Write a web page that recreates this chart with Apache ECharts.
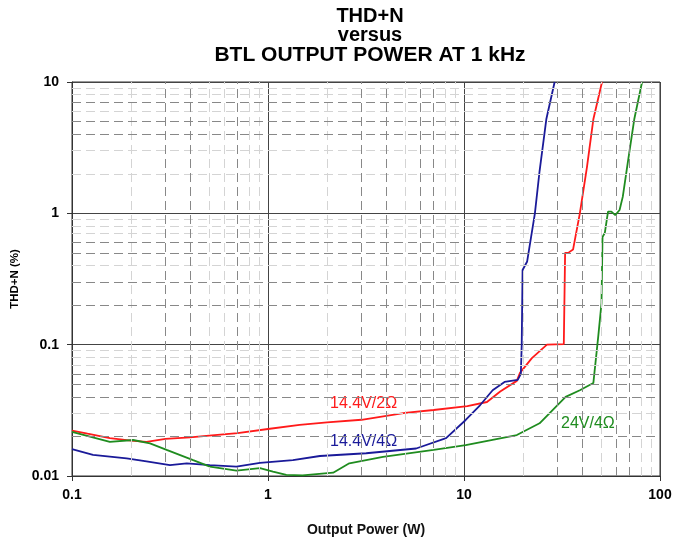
<!DOCTYPE html>
<html>
<head>
<meta charset="utf-8">
<script src="https://cdn.jsdelivr.net/npm/echarts@6/dist/echarts.min.js"></script>
<style>html,body{margin:0;padding:0;background:#fff}#c{width:675px;height:544px}</style>
</head>
<body>
<div id="c"></div>
<script>
// ---- data (Output Power W, THD+N %) ----
const red_14V4_2ohm = [[0.1,0.0222],[0.12,0.021],[0.156,0.0194],[0.2,0.0186],[0.24,0.0182],[0.3,0.0192],[0.4,0.0197],[0.5,0.0203],[0.7,0.0212],[1.0,0.0228],[1.45,0.0245],[2,0.0256],[3,0.0268],[5,0.0302],[7,0.0318],[10.4,0.034],[13.1,0.0366],[15.3,0.044],[18.6,0.053],[19.3,0.061],[22.2,0.079],[26.5,0.1],[32.3,0.101],[32.8,0.5],[34,0.5],[36,0.53],[39,1.0],[42.4,2.25],[45.7,5.2],[50.6,10]];
const blue_14V4_4ohm = [[0.1,0.016],[0.128,0.0145],[0.19,0.0136],[0.24,0.0129],[0.316,0.0121],[0.385,0.0125],[0.505,0.0121],[0.69,0.0118],[0.91,0.0126],[1.34,0.0132],[1.84,0.0142],[3.17,0.0149],[5.7,0.0162],[8.1,0.0194],[10.2,0.0267],[12.1,0.0347],[14,0.045],[16.1,0.052],[18.8,0.054],[19.5,0.06],[19.7,0.1],[19.9,0.37],[21,0.43],[23,1.0],[24.3,2.1],[26.3,5.2],[29,10]];
const green_24V_4ohm = [[0.1,0.0217],[0.156,0.0182],[0.205,0.0188],[0.25,0.0177],[0.304,0.0158],[0.415,0.0132],[0.505,0.0118],[0.69,0.011],[0.91,0.0115],[1.06,0.0108],[1.24,0.0102],[1.5,0.0101],[2.15,0.0106],[2.6,0.0125],[3.86,0.014],[7.0,0.0158],[10.2,0.0172],[18.6,0.0205],[24.3,0.0252],[33,0.040],[39,0.045],[45.7,0.051],[48.4,0.115],[50.3,0.207],[50.9,0.66],[52.3,0.71],[54.3,1.03],[56.5,1.03],[59.1,0.97],[62.2,1.06],[64.6,1.34],[68.4,2.4],[73.9,5.2],[81,10]];
const seriesNames = ['14.4V/2Ω','14.4V/4Ω','24V/4Ω'];
const titleLines = ['THD+N','versus','BTL OUTPUT POWER AT 1 kHz'];
const xTicks = [0.1, 1, 10, 100];
const yTicks = [0.01, 0.1, 1, 10];
// minor grid values
const xMinorDark = [0.3,0.4,0.7,3,4,6,7,30,40,60,70];
const xMinorLight = [0.2,0.5,0.6,0.8,0.9,2,5,8,9,20,50,80,90];
const yMinorDark = [0.02,0.04,0.05,0.06,0.2,0.3,0.5,0.6,4,5,7];
const yMinorLight = [0.03,0.07,0.08,0.09,0.4,0.7,0.8,0.9,2,3,6,8,9];

const FONT = '"Liberation Sans", Arial, Helvetica, sans-serif';
const chart = echarts.init(document.getElementById('c'));

const darkStyle = {color:'#888', type:[9,5], width:1};
const lightStyle = {color:'#d4d4d4', type:[9,5], width:1};
const gridLines = []
  .concat(xMinorLight.map(v => ({xAxis:v, lineStyle:lightStyle})))
  .concat(yMinorLight.map(v => ({yAxis:v, lineStyle:lightStyle})))
  .concat(xMinorDark.map(v => ({xAxis:v, lineStyle:darkStyle})))
  .concat(yMinorDark.map(v => ({yAxis:v, lineStyle:darkStyle})));

const fmt = v => String(+(+v).toPrecision(3));

chart.setOption({
  animation:false,
  backgroundColor:'#fff',
  grid:{left:72, right:15, top:82, bottom:68, show:true, borderColor:'#333', borderWidth:1},
  xAxis:{
    type:'log', logBase:10, min:0.1, max:100,
    name:'Output Power (W)', nameLocation:'middle', nameGap:47,
    nameTextStyle:{fontFamily:FONT, fontWeight:'bold', fontSize:14, color:'#111'},
    axisLine:{lineStyle:{color:'#333'}},
    axisTick:{show:true, length:5, lineStyle:{color:'#333'}},
    axisLabel:{fontFamily:FONT, fontWeight:'bold', fontSize:14, color:'#000', margin:12,
      formatter: v => fmt(v)},
    splitLine:{show:true, lineStyle:{color:'#444', width:1}}
  },
  yAxis:{
    type:'log', logBase:10, min:0.01, max:10,
    name:'THD+N (%)', nameLocation:'middle', nameGap:44, nameRotate:90,
    nameTextStyle:{fontFamily:FONT, fontWeight:'bold', fontSize:11.5, color:'#000'},
    axisLine:{lineStyle:{color:'#333'}},
    axisTick:{show:true, length:5, lineStyle:{color:'#333'}},
    axisLabel:{fontFamily:FONT, fontWeight:'bold', fontSize:14, color:'#000', margin:13,
      formatter: v => fmt(v)},
    splitLine:{show:true, lineStyle:{color:'#444', width:1}}
  },
  series:[
    {type:'line', data:[], silent:true, z:1,
      markLine:{silent:true, symbol:'none', label:{show:false}, animation:false, data:gridLines}},
    {name:seriesNames[0], type:'line', data:red_14V4_2ohm, showSymbol:false, z:3,
      lineStyle:{color:'#ff1a1a', width:1.8}, itemStyle:{color:'#ff1a1a'}},
    {name:seriesNames[1], type:'line', data:blue_14V4_4ohm, showSymbol:false, z:3,
      lineStyle:{color:'#1a1a99', width:1.8}, itemStyle:{color:'#1a1a99'}},
    {name:seriesNames[2], type:'line', data:green_24V_4ohm, showSymbol:false, z:3,
      lineStyle:{color:'#1f8c1f', width:1.8}, itemStyle:{color:'#1f8c1f'}}
  ],
  graphic:[
    {type:'text', x:370, y:16, style:{text:titleLines[0], fill:'#000', font:'bold 20px '+FONT, textAlign:'center', textVerticalAlign:'middle'}},
    {type:'text', x:370, y:35, style:{text:titleLines[1], fill:'#000', font:'bold 20px '+FONT, textAlign:'center', textVerticalAlign:'middle'}},
    {type:'text', x:370, y:55, style:{text:titleLines[2], fill:'#000', font:'bold 21px '+FONT, textAlign:'center', textVerticalAlign:'middle'}},
    {type:'text', x:330, y:404, style:{text:seriesNames[0], fill:'#ff1a1a', font:'16px '+FONT, textVerticalAlign:'middle'}},
    {type:'text', x:330, y:442, style:{text:seriesNames[1], fill:'#1a1a99', font:'16px '+FONT, textVerticalAlign:'middle'}},
    {type:'text', x:561, y:424, style:{text:seriesNames[2], fill:'#1f8c1f', font:'16px '+FONT, textVerticalAlign:'middle'}}
  ]
});
</script>
</body>
</html>
